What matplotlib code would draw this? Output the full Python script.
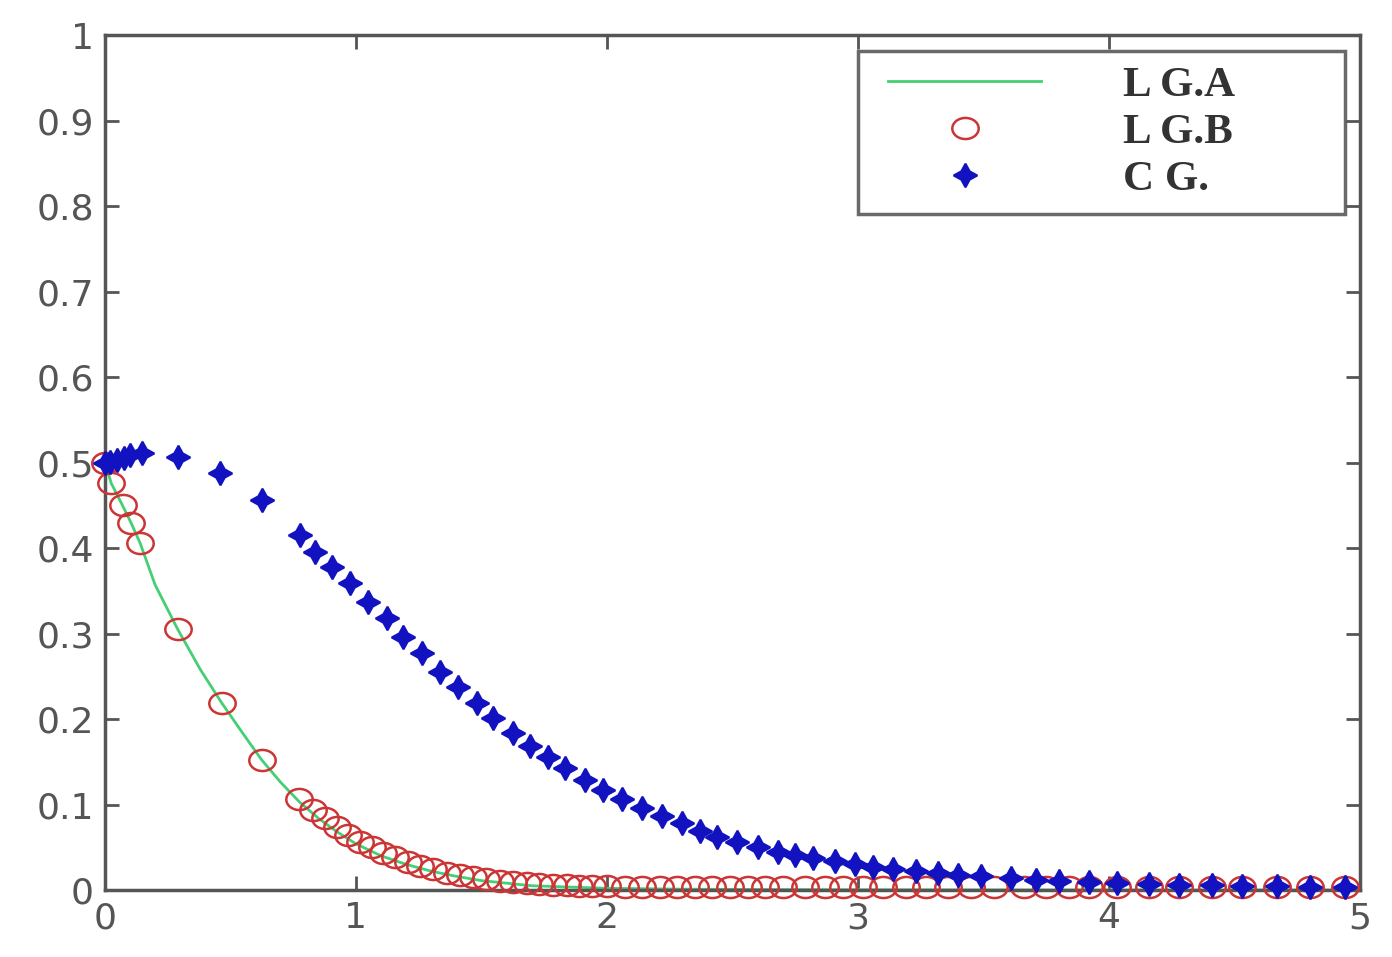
import matplotlib
matplotlib.use("Agg")
import matplotlib.pyplot as plt
from matplotlib.path import Path
from matplotlib.transforms import Affine2D
from matplotlib.legend_handler import HandlerLine2D
import numpy as np

# L G.A (green solid line)
lga_x = [0, 0.025, 0.07, 0.105, 0.14, 0.2, 0.29, 0.38, 0.465, 0.55, 0.625, 0.7, 0.775,
         0.85, 0.92, 1.0, 1.1, 1.2, 1.3, 1.4, 1.5, 1.6, 1.7, 1.8, 2.0, 2.3, 2.6, 3.0,
         3.5, 4.0, 4.5, 5.0]
lga_y = [0.5, 0.476, 0.450, 0.429, 0.406, 0.357, 0.305, 0.258, 0.219, 0.183, 0.152,
         0.126, 0.103, 0.084, 0.069, 0.054, 0.040, 0.030, 0.022, 0.016, 0.011, 0.008,
         0.005, 0.004, 0.002, 0.001, 0.0006, 0.0003, 0.0001, 0.0, 0.0, 0.0]

# L G.B (red circles)
lgb_x = [0, 0.025, 0.07, 0.105, 0.14, 0.29, 0.465, 0.625, 0.775, 0.83, 0.876, 0.924,
         0.968, 1.016, 1.064, 1.108, 1.155, 1.207, 1.255, 1.307, 1.363, 1.414, 1.466,
         1.52, 1.574, 1.625, 1.68, 1.73, 1.785, 1.84, 1.89, 1.94, 2.0, 2.07, 2.14,
         2.21, 2.28, 2.35, 2.42, 2.49, 2.56, 2.63, 2.70, 2.79, 2.87, 2.94, 3.02, 3.10,
         3.19, 3.27, 3.36, 3.45, 3.54, 3.66, 3.75, 3.84, 3.92, 4.03, 4.16, 4.28, 4.41,
         4.53, 4.67, 4.80, 4.94]
lgb_y = [0.5, 0.476, 0.450, 0.429, 0.406, 0.305, 0.219, 0.152, 0.106, 0.094, 0.084,
         0.074, 0.064, 0.056, 0.050, 0.043, 0.039, 0.033, 0.028, 0.025, 0.020, 0.018,
         0.015, 0.013, 0.011, 0.009, 0.008, 0.007, 0.006, 0.006, 0.005, 0.005, 0.005,
         0.004, 0.004, 0.004, 0.004, 0.004, 0.004, 0.004, 0.004, 0.004, 0.004, 0.004,
         0.004, 0.004, 0.004, 0.004, 0.004, 0.004, 0.004, 0.004, 0.004, 0.004, 0.004,
         0.004, 0.004, 0.004, 0.004, 0.004, 0.004, 0.004, 0.004, 0.004, 0.004]

# C G. (blue stars)
cg_x = [0, 0.02, 0.048, 0.075, 0.10, 0.147, 0.29, 0.46, 0.625, 0.777, 0.837, 0.904,
        0.976, 1.048, 1.124, 1.187, 1.263, 1.335, 1.406, 1.482, 1.546, 1.625, 1.695,
        1.765, 1.833, 1.912, 1.984, 2.06, 2.14, 2.22, 2.30, 2.37, 2.44, 2.52, 2.60,
        2.68, 2.75, 2.82, 2.91, 2.99, 3.06, 3.14, 3.23, 3.32, 3.40, 3.49, 3.61, 3.71,
        3.80, 3.92, 4.03, 4.16, 4.28, 4.41, 4.53, 4.67, 4.80, 4.94]
cg_y = [0.5, 0.501, 0.503, 0.506, 0.509, 0.511, 0.507, 0.488, 0.456, 0.415, 0.395,
        0.378, 0.359, 0.337, 0.318, 0.296, 0.277, 0.255, 0.237, 0.219, 0.201, 0.184,
        0.169, 0.156, 0.143, 0.129, 0.117, 0.107, 0.096, 0.087, 0.078, 0.069, 0.062,
        0.056, 0.050, 0.045, 0.041, 0.038, 0.034, 0.030, 0.027, 0.025, 0.022, 0.020,
        0.018, 0.016, 0.014, 0.012, 0.010, 0.009, 0.008, 0.007, 0.006, 0.006, 0.005,
        0.005, 0.004, 0.004]

xticks = [0, 1, 2, 3, 4, 5]
yticks = [0, 0.1, 0.2, 0.3, 0.4, 0.5, 0.6, 0.7, 0.8, 0.9, 1]
ytick_labels = ["0", "0.1", "0.2", "0.3", "0.4", "0.5", "0.6", "0.7", "0.8", "0.9", "1"]

# circles in the picture are a bit wider than tall
ellipse = Path.unit_circle().transformed(Affine2D().scale(1.25, 1.0))

fig = plt.figure(figsize=(13.92, 9.57), dpi=100)
ax = fig.add_axes([0.0754, 0.070, 0.9016, 0.893])

ax.plot(lga_x, lga_y, color="#45cf75", lw=2, label="L G.A", clip_on=False, zorder=2)
ax.plot(lgb_x, lgb_y, marker=ellipse, ls="none", ms=19, mfc="none", mec="#cc3535",
        mew=1.8, label="L G.B", clip_on=False, zorder=3)
ax.plot(cg_x, cg_y, marker=(4, 1, 0), ls="none", ms=17, color="#1212c0", mew=1.5,
        label="C G.", clip_on=False, zorder=4)

ax.set_xlim(0, 5)
ax.set_ylim(0, 1)
ax.set_xticks(xticks)
ax.set_xticklabels([str(t) for t in xticks])
ax.set_yticks(yticks)
ax.set_yticklabels(ytick_labels)

for s in ax.spines.values():
    s.set_color("#555555")
    s.set_linewidth(2.5)
ax.tick_params(direction="in", length=10, width=2, color="#555555",
               top=True, right=True, labelsize=26, labelcolor="#555555", pad=8)

leg = ax.legend(loc="upper left", bbox_to_anchor=(0.600, 0.982, 0.388, 0.0),
                mode="expand", fancybox=False, frameon=True, borderaxespad=0,
                handlelength=3.9, handletextpad=1.9, labelspacing=0.18,
                borderpad=0.35, prop={"family": "Liberation Serif", "size": 31,
                                      "weight": "bold"},
                handler_map={plt.Line2D: HandlerLine2D(xpad=0.35)})
leg.get_frame().set_edgecolor("#444444")
leg.get_frame().set_linewidth(2.5)
for t in leg.get_texts():
    t.set_color("#333333")

fig.savefig("out.png", dpi=100, facecolor="white")
